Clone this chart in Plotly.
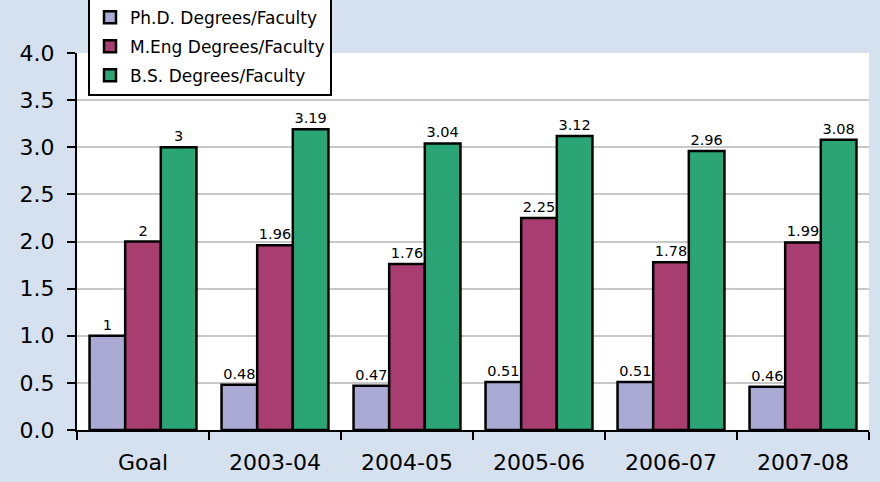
import plotly.graph_objects as go

categories = ["Goal", "2003-04", "2004-05", "2005-06", "2006-07", "2007-08"]
phd = [1, 0.48, 0.47, 0.51, 0.51, 0.46]
meng = [2, 1.96, 1.76, 2.25, 1.78, 1.99]
bs = [3, 3.19, 3.04, 3.12, 2.96, 3.08]
phd_labels = ["1", "0.48", "0.47", "0.51", "0.51", "0.46"]
meng_labels = ["2", "1.96", "1.76", "2.25", "1.78", "1.99"]
bs_labels = ["3", "3.19", "3.04", "3.12", "2.96", "3.08"]

series = [
    ("Ph.D. Degrees/Faculty", phd, phd_labels, "#AAAAD4"),
    ("M.Eng Degrees/Faculty", meng, meng_labels, "#A83D72"),
    ("B.S. Degrees/Faculty", bs, bs_labels, "#2BA576"),
]

font = "DejaVu Sans, Verdana, sans-serif"
fig = go.Figure()
for i, (name, vals, labels, color) in enumerate(series):
    fig.add_trace(go.Bar(
        x=categories, y=vals, name=name, text=labels,
        textposition="outside", cliponaxis=False,
        textfont=dict(family=font, size=14.5, color="black"),
        marker=dict(color=color, line=dict(color="black", width=2.5)),
        legendgroup=f"g{i}",
    ))

fig.update_layout(
    width=880, height=482,
    margin=dict(l=77, r=11, t=53, b=52, autoexpand=False),
    paper_bgcolor="#D5E1EE", plot_bgcolor="white",
    barmode="group", bargap=0.19, bargroupgap=0,
    font=dict(family=font, color="black"),
    showlegend=True,
    legend=dict(
        x=0.0139, y=1.147, xanchor="left", yanchor="top",
        bgcolor="white", bordercolor="black", borderwidth=2,
        font=dict(family=font, size=17, color="black"),
        tracegroupgap=4,
    ),
)
fig.update_xaxes(
    type="category",
    showline=True, linecolor="black", linewidth=2,
    ticks="outside", tickson="boundaries", ticklen=8, tickwidth=2, tickcolor="black",
    tickfont=dict(family=font, size=22, color="black"),
    ticklabelstandoff=12, showgrid=False,
)
fig.update_yaxes(
    range=[0, 4], dtick=0.5, tickformat=".1f",
    showline=True, linecolor="black", linewidth=2,
    ticks="outside", ticklen=8, tickwidth=2, tickcolor="black",
    tickfont=dict(family=font, size=22, color="black"),
    ticklabelstandoff=8,
    showgrid=True, gridcolor="#C8C8C8", gridwidth=2, zeroline=False,
)
fig.write_html("out.html", config={"displayModeBar": False},
               post_script="document.body.style.margin='0';")
